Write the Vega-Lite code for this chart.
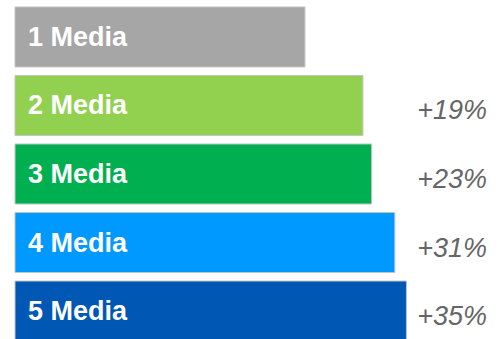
{
  "$schema": "https://vega.github.io/schema/vega-lite/v6.json",
  "width": 488,
  "height": 348,
  "autosize": {"type": "none"},
  "padding": {"left": 15, "top": 0, "right": 0, "bottom": 0},
  "background": "white",
  "config": {"view": {"stroke": null}},
  "data": {
    "values": [
      {"media": "1 Media", "value": 100, "lift": "", "color": "#a6a6a6"},
      {"media": "2 Media", "value": 120, "lift": "+19%", "color": "#92d050"},
      {"media": "3 Media", "value": 123, "lift": "+23%", "color": "#00b050"},
      {"media": "4 Media", "value": 131, "lift": "+31%", "color": "#0099ff"},
      {"media": "5 Media", "value": 135, "lift": "+35%", "color": "#0058b4"}
    ]
  },
  "encoding": {
    "y": {
      "field": "media",
      "type": "nominal",
      "sort": null,
      "axis": null,
      "scale": {"paddingInner": 0.124, "paddingOuter": 0.102}
    }
  },
  "layer": [
    {
      "mark": {"type": "bar", "stroke": "#c4c4c4", "strokeWidth": 1},
      "encoding": {
        "x": {"field": "value", "type": "quantitative", "axis": null, "scale": {"domain": [0, 168.3], "nice": false, "zero": true}},
        "color": {"field": "color", "type": "nominal", "scale": null, "legend": null}
      }
    },
    {
      "mark": {"type": "text", "align": "left", "baseline": "middle", "dx": 13, "dy": 1, "font": "Liberation Sans", "fontSize": 27, "fontWeight": "bold", "color": "white"},
      "encoding": {
        "x": {"datum": 0, "type": "quantitative"},
        "text": {"field": "media"}
      }
    },
    {
      "mark": {"type": "text", "align": "right", "baseline": "middle", "dy": 6, "font": "Liberation Sans", "fontSize": 27, "fontStyle": "italic", "color": "#666666"},
      "encoding": {
        "x": {"datum": 162.8, "type": "quantitative"},
        "text": {"field": "lift"}
      }
    }
  ]
}
